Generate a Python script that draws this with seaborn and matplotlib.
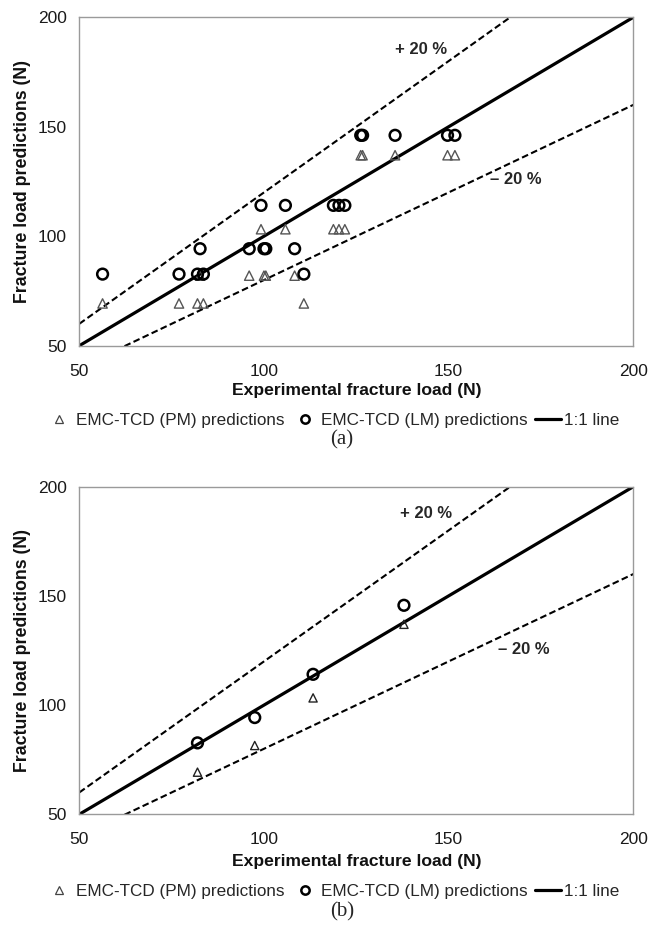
import numpy as np
import pandas as pd
import matplotlib
matplotlib.use("Agg")
import matplotlib.pyplot as plt
from matplotlib.lines import Line2D
import seaborn as sns

# ---------------- data ----------------
# (a) individual specimens
exp_a = [56.3, 77.0, 82.0, 83.6, 110.8,
         82.7, 96.0, 100.0, 100.5, 108.3,
         99.2, 105.8, 118.8, 120.3, 121.9,
         126.2, 126.7, 135.5, 149.7, 151.7]
pm_a = [69.3] * 5 + [82.0] * 5 + [103.2] * 5 + [137.0] * 5
lm_a = [82.7] * 5 + [94.3] * 5 + [114.1] * 5 + [146.1] * 5

# (b) averaged values
exp_b = [82.0, 97.5, 113.3, 137.9]
pm_b = [69.3, 81.5, 103.3, 137.0]
lm_b = [82.7, 94.3, 114.1, 145.7]

line_x = [50, 200]
ratios = {"1:1": 1.0, "+20": 1.2, "-20": 0.8}
ticks = [50, 100, 150, 200]

sns.set_theme(style="white")
plt.rcParams['font.family'] = ['Liberation Sans', 'DejaVu Sans']

fig = plt.figure(figsize=(6.49, 9.30), dpi=100)
W, H = 649, 930


def make_axes(top_px, bot_px):
    left, right = 79.3, 633.3
    return fig.add_axes([left / W, 1 - bot_px / H, (right - left) / W, (bot_px - top_px) / H])


def draw(ax, ex, pm, lm, tri_color, tri_size, plus_xy, minus_xy, xlabelpad):
    for key, r in ratios.items():
        lx = np.array(line_x, dtype=float)
        ly = lx * r
        df = pd.DataFrame({"x": lx, "y": ly})
        if key == "1:1":
            sns.lineplot(data=df, x="x", y="y", ax=ax, color="black", lw=2.3, zorder=2)
        else:
            sns.lineplot(data=df, x="x", y="y", ax=ax, color="black", lw=1.5,
                         linestyle=(0, (3.2, 1.6)), zorder=2)
    dpm = pd.DataFrame({"x": ex, "y": pm})
    dlm = pd.DataFrame({"x": ex, "y": lm})
    sns.scatterplot(data=dpm, x="x", y="y", ax=ax, marker="^", s=tri_size,
                    facecolor="none", edgecolor=tri_color, linewidth=1.0, zorder=3)
    sns.scatterplot(data=dlm, x="x", y="y", ax=ax, marker="o", s=60,
                    facecolor="none", edgecolor="black", linewidth=1.8, zorder=4)
    ax.set_xlim(50, 200)
    ax.set_ylim(50, 200)
    ax.set_xticks(ticks)
    ax.set_yticks(ticks)
    ax.tick_params(axis="both", direction="out", length=5, width=1, color="#9a9a9a",
                   labelsize=12.5, labelcolor="#1a1a1a", pad=4)
    ax.tick_params(axis="x", pad=8)
    for sp in ax.spines.values():
        sp.set_color("#9a9a9a")
        sp.set_linewidth(1.0)
    ax.set_xlabel("Experimental fracture load (N)", fontsize=12.6, fontweight="bold",
                  labelpad=xlabelpad, color="#111111")
    ax.set_ylabel("Fracture load predictions (N)", fontsize=12.8, fontweight="bold",
                  labelpad=5, color="#111111")
    ax.text(plus_xy[0], plus_xy[1], "+ 20 %", fontsize=12, fontweight="bold",
            ha="center", va="center")
    ax.text(minus_xy[0], minus_xy[1], "\u2013 20 %", fontsize=12, fontweight="bold",
            ha="center", va="center")


ax1 = make_axes(17.3, 345.7)
draw(ax1, exp_a, pm_a, lm_a, "#555555", 45, (142.5, 185.1), (168.3, 125.7), 3)
ax2 = make_axes(486.7, 814.3)
draw(ax2, exp_b, pm_b, lm_b, "#222222", 35, (143.9, 187.5), (170.4, 125.5), 5)

handles = [
    Line2D([], [], marker="^", ls="none", markersize=6, markerfacecolor="none",
           markeredgecolor="#444444", markeredgewidth=0.9),
    Line2D([], [], marker="o", ls="none", markersize=6, markerfacecolor="none",
           markeredgecolor="black", markeredgewidth=1.8),
    Line2D([], [], color="black", lw=2.3),
]
labels = ["EMC-TCD (PM) predictions", "EMC-TCD (LM) predictions", "1:1 line"]

for ypx, cap, cy in [(420, "(a)", 440), (891, "(b)", 912)]:
    fig.legend(handles, labels, loc="center", bbox_to_anchor=(333 / W, 1 - ypx / H),
               ncol=3, frameon=False, fontsize=12.3, handlelength=1.5,
               handletextpad=0.2, columnspacing=0.45, borderpad=0, borderaxespad=0)
    fig.text(342 / W, 1 - cy / H, cap, fontsize=15, family=["Liberation Serif", "DejaVu Serif"],
             ha="center", va="center")

fig.savefig("out.png", dpi=100)
